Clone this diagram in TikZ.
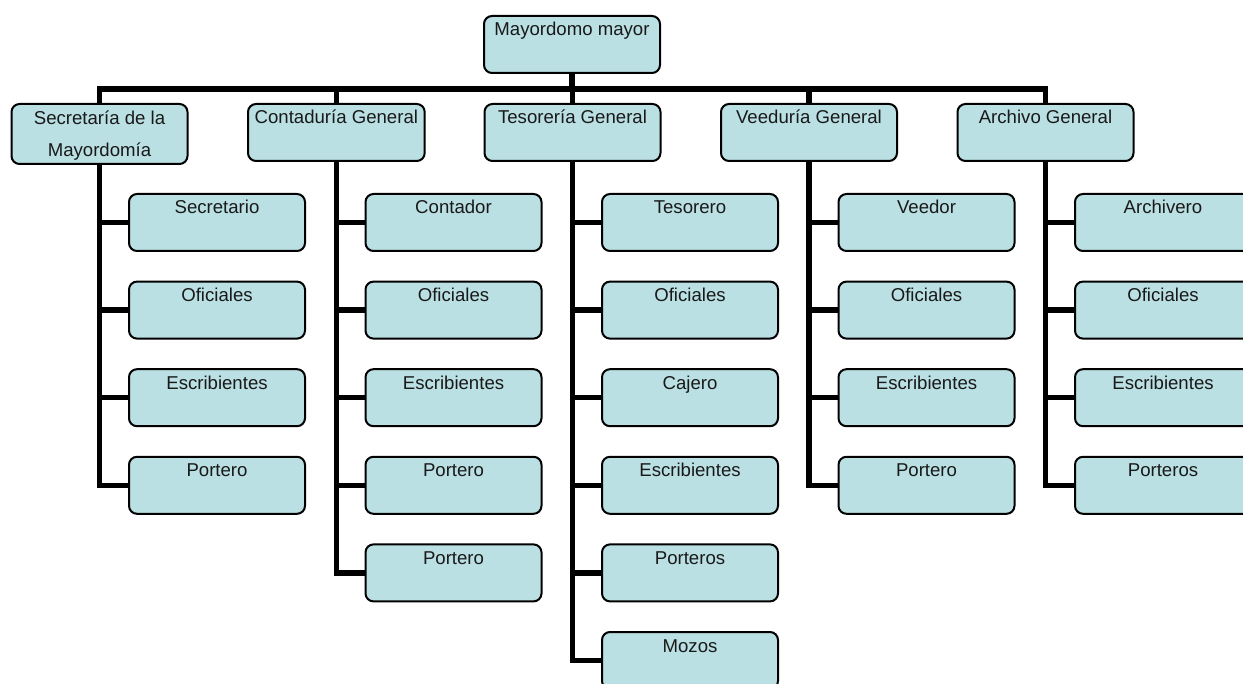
\documentclass[tikz,border=0pt]{standalone}
\usepackage{fontspec}
\setmainfont{Liberation Sans}
\usepackage{xcolor}
\usepackage{tikz}
\usetikzlibrary{positioning, calc}
\definecolor{cajaAzul}{RGB}{186, 224, 227}
\definecolor{textoGris}{RGB}{25, 25, 25}

\tikzset{
  cargo/.style={draw, line width=1pt, fill=cajaAzul, rounded corners=4pt, text=textoGris,
    anchor=north west, minimum width=88pt, minimum height=28.5pt, inner ysep=0pt,
    align=center, text height=10pt, text depth=18.5pt,
    font=\fontsize{9.3}{16}\selectfont},
  conector/.style={line width=2.75pt}
}

\begin{document}
\begin{tikzpicture}[x=0.5pt, y=-0.5pt]
        \useasboundingbox (0,0) rectangle (1243,684);

        % Nodo superior
        \node[cargo] (mayor) at (483, 15) {Mayordomo mayor};

        % Dependencias
        \node[cargo, text height=26.5pt, text depth=3.5pt] (sec) at (10.5, 103) {Secretaría de la\\Mayordomía};
        \node[cargo] (cont) at (247, 103) {Contaduría General};
        \node[cargo] (tes) at (483.5, 103) {Tesorería General};
        \node[cargo] (vee) at (720, 103) {Veeduría General};
        \node[cargo] (arch) at (956.5, 103) {Archivo General};

        % Empleados de cada dependencia
        \foreach \t [count=\i] in {Secretario, Oficiales, Escribientes, Portero}
          \node[cargo] (sec\i) at (128, {193+87.6*(\i-1)}) {\t};
        \foreach \t [count=\i] in {Contador, Oficiales, Escribientes, Portero, Portero}
          \node[cargo] (cont\i) at (364.5, {193+87.6*(\i-1)}) {\t};
        \foreach \t [count=\i] in {Tesorero, Oficiales, Cajero, Escribientes, Porteros, Mozos}
          \node[cargo] (tes\i) at (601, {193+87.6*(\i-1)}) {\t};
        \foreach \t [count=\i] in {Veedor, Oficiales, Escribientes, Portero}
          \node[cargo] (vee\i) at (837.5, {193+87.6*(\i-1)}) {\t};
        \foreach \t [count=\i] in {Archivero, Oficiales, Escribientes, Porteros}
          \node[cargo] (arch\i) at (1074, {193+87.6*(\i-1)}) {\t};

        % Barra principal
        \draw[conector] (mayor.south) -- ++(0,15) coordinate (cruce);
        \foreach \n in {sec, cont, tes, vee, arch}
          \draw[conector] (\n.north) |- (cruce);

        % Lineas hacia los empleados
        \foreach \i in {1,...,4} \draw[conector] (sec.south) |- (sec\i.west);
        \foreach \i in {1,...,5} \draw[conector] (cont.south) |- (cont\i.west);
        \foreach \i in {1,...,6} \draw[conector] (tes.south) |- (tes\i.west);
        \foreach \i in {1,...,4} \draw[conector] (vee.south) |- (vee\i.west);
        \foreach \i in {1,...,4} \draw[conector] (arch.south) |- (arch\i.west);
    \end{tikzpicture}
\end{document}
